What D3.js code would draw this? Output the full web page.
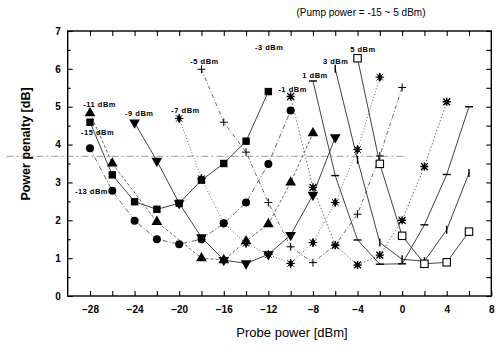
<!DOCTYPE html>
<html>
<head>
<meta charset="utf-8">
<script src="https://cdn.jsdelivr.net/npm/d3@7"></script>
<style>
  body { margin: 0; background: #fff; }
  text { font-family: "Liberation Sans", Arial, sans-serif; }
</style>
</head>
<body>
<svg id="chart" width="496" height="353"></svg>
<script>
// --- data (probe power [dBm] / power penalty [dB]) ---
const probeM15 = [-28, -26, -24, -22, -20, -18, -16, -14, -12];
const penaltyM15 = [4.59, 3.2, 2.49, 2.29, 2.45, 3.06, 3.5, 4.09, 5.4];

const probeM13 = [-28, -26, -24, -22, -20, -18, -16, -14, -12, -10];
const penaltyM13 = [3.9, 2.78, 1.99, 1.5, 1.37, 1.5, 1.92, 2.47, 3.49, 4.9];

const probeM11 = [-28, -26, -22, -18, -16, -14, -12, -10, -8];
const penaltyM11 = [4.83, 3.5, 1.96, 1.0, 0.95, 1.45, 1.9, 3.0, 4.3];

const probeM9 = [-24, -22, -20, -18, -16, -14, -12, -10, -8, -6];
const penaltyM9 = [4.58, 3.57, 2.45, 1.55, 0.95, 0.86, 1.1, 1.61, 2.67, 4.19];

const probeM7 = [-20, -18, -16, -14, -12, -10, -8, -6, -4, -2];
const penaltyM7 = [4.69, 3.1, 1.92, 1.39, 1.1, 0.86, 1.41, 2.47, 3.87, 5.78];

const probeM5 = [-18, -16, -14, -12, -10, -8, -6, -4, -2, 0];
const penaltyM5 = [5.99, 4.59, 3.8, 2.47, 1.3, 0.88, 1.35, 2.16, 3.7, 5.51];

const probeM1 = [-10, -8, -6, -4, -2, 0, 2, 4];
const penaltyM1 = [5.27, 2.87, 1.34, 0.82, 1.08, 2.0, 3.42, 5.13];

const probeP1 = [-8, -6, -4, -2, 0, 2, 4, 6];
const penaltyP1 = [5.68, 3.18, 1.48, 0.84, 0.85, 1.88, 3.21, 5.0];

const probeP3 = [-6, -4, -2, 0, 2, 4, 6];
const penaltyP3 = [6.0, 3.6, 1.41, 0.97, 0.92, 1.75, 3.25];

const probeP5 = [-4, -2, 0, 2, 4, 6];
const penaltyP5 = [6.28, 3.49, 1.59, 0.85, 0.89, 1.7];

// pump power labels and where they sit (data coords)
const pumpLabels = ['-11 dBm', '-15 dBm', '-13 dBm', '-9 dBm', '-7 dBm', '-5 dBm', '-3 dBm', '-1 dBm', '1 dBm', '3 dBm', '5 dBm'];
const pumpLabelX = [-28.6, -28.8, -29.35, -24.85, -20.7, -19.0, -13.2, -11.1, -8.95, -7.1, -4.65];
const pumpLabelY = [5.0, 4.25, 2.69, 4.75, 4.83, 6.13, 6.5, 5.39, 5.76, 6.13, 6.44];

const xTicks = [-28, -24, -20, -16, -12, -8, -4, 0, 4, 8];
const yTicks = [0, 1, 2, 3, 4, 5, 6, 7];
const refPenalty = 3.69; // dash-dot reference line

// --- layout ---
const M = { left: 67.7, right: 491.3, top: 31, bottom: 296 };

const svg = d3.select('#chart');

const x = d3.scaleLinear().domain([-30, 8]).range([M.left, M.right]);
const y = d3.scaleLinear().domain([0, 7]).range([M.bottom, M.top]);

// series table (styles live here, not in the data arrays)
const series = [
  { px: probeM15, py: penaltyM15, marker: 'square', dash: null },
  { px: probeM13, py: penaltyM13, marker: 'circle', dash: '5,2,1,2' },
  { px: probeM11, py: penaltyM11, marker: 'triUp', dash: '3,2' },
  { px: probeM9, py: penaltyM9, marker: 'triDown', dash: null },
  { px: probeM7, py: penaltyM7, marker: 'burst', dash: '1,2' },
  { px: probeM5, py: penaltyM5, marker: 'plus', dash: '4,2,1,2' },
  { px: probeM1, py: penaltyM1, marker: 'asterisk', dash: '1.5,2' },
  { px: probeP1, py: penaltyP1, marker: 'hbar', dash: null },
  { px: probeP3, py: penaltyP3, marker: 'vbar', dash: null },
  { px: probeP5, py: penaltyP5, marker: 'openSquare', dash: null }
];

// reference dash-dot line (it starts left of the axis)
svg.append('line')
  .attr('x1', x(-35.5)).attr('x2', x(0.3))
  .attr('y1', y(refPenalty)).attr('y2', y(refPenalty))
  .attr('stroke', '#aaa').attr('stroke-width', 1.3)
  .attr('stroke-dasharray', '7,3,2,3');

// curves
const line = d3.line().x(d => x(d[0])).y(d => y(d[1]));
series.forEach(s => {
  const pts = s.px.map((v, i) => [v, s.py[i]]);
  svg.append('path')
    .datum(pts)
    .attr('d', line)
    .attr('fill', 'none')
    .attr('stroke', s.dash ? '#444' : '#111')
    .attr('stroke-width', 0.8)
    .attr('stroke-dasharray', s.dash);
});

// markers
function drawMarker(g, type) {
  switch (type) {
    case 'square':
      g.append('rect').attr('x', -3.7).attr('y', -3.7).attr('width', 7.4).attr('height', 7.4).attr('fill', '#000');
      break;
    case 'openSquare':
      g.append('rect').attr('x', -3.7).attr('y', -3.7).attr('width', 7.4).attr('height', 7.4)
        .attr('fill', '#fff').attr('stroke', '#000').attr('stroke-width', 1.1);
      break;
    case 'circle':
      g.append('circle').attr('r', 4).attr('fill', '#000');
      break;
    case 'triUp':
      g.append('path').attr('d', d3.symbol(d3.symbolTriangle, 50)()).attr('fill', '#000');
      break;
    case 'triDown':
      g.append('path').attr('d', d3.symbol(d3.symbolTriangle, 50)())
        .attr('transform', 'rotate(180)').attr('fill', '#000');
      break;
    case 'burst':
      g.append('path').attr('d', d3.symbol(d3.symbolDiamond, 24)()).attr('fill', '#000');
      g.append('path').attr('d', 'M-3.3,-3.3L3.3,3.3M-3.3,3.3L3.3,-3.3M-4.3,0H4.3M0,-4.3V4.3')
        .attr('stroke', '#000').attr('stroke-width', 1);
      break;
    case 'plus':
      g.append('path').attr('d', 'M-4,0H4M0,-4V4')
        .attr('stroke', '#000').attr('stroke-width', 1);
      break;
    case 'asterisk':
      g.append('path').attr('d', 'M-3.4,-3.4L3.4,3.4M-3.4,3.4L3.4,-3.4M-4,0H4M0,-4V4')
        .attr('stroke', '#000').attr('stroke-width', 1.4);
      break;
    case 'hbar':
      g.append('path').attr('d', 'M-4,0H4').attr('stroke', '#000').attr('stroke-width', 1.4);
      break;
    case 'vbar':
      g.append('path').attr('d', 'M0,-4V4').attr('stroke', '#000').attr('stroke-width', 1.4);
      break;
  }
}

series.forEach(s => {
  s.px.forEach((v, i) => {
    const g = svg.append('g').attr('transform', `translate(${x(v)},${y(s.py[i])})`);
    drawMarker(g, s.marker);
  });
});

// pump power labels
svg.selectAll('text.pump').data(pumpLabels).enter().append('text')
  .attr('class', 'pump')
  .attr('x', (d, i) => x(pumpLabelX[i]))
  .attr('y', (d, i) => y(pumpLabelY[i]))
  .attr('font-size', '7.5px').attr('font-weight', 'bold')
  .attr('letter-spacing', '0.5')
  .text(d => d);

// frame
svg.append('rect')
  .attr('x', M.left).attr('y', M.top)
  .attr('width', M.right - M.left).attr('height', M.bottom - M.top)
  .attr('fill', 'none').attr('stroke', '#000').attr('stroke-width', 1.4);

// axes (ticks pointing inward)
const xMinor = d3.range(-28, 8, 2).filter(v => !xTicks.includes(v));
const yMinor = d3.range(0.5, 7, 1);

const axB = svg.append('g').attr('transform', `translate(0,${M.bottom})`)
  .call(d3.axisBottom(x).tickValues(xTicks).tickSize(-5).tickPadding(10).tickFormat(d3.format('d')));
const axL = svg.append('g').attr('transform', `translate(${M.left},0)`)
  .call(d3.axisLeft(y).tickValues(yTicks).tickSize(-5).tickPadding(7).tickFormat(d3.format('d')));
svg.append('g').attr('transform', `translate(0,${M.top})`)
  .call(d3.axisTop(x).tickValues(d3.range(-28, 8, 2)).tickSize(-5).tickFormat(''));
svg.append('g').attr('transform', `translate(${M.right},0)`)
  .call(d3.axisRight(y).tickValues(yTicks.concat(yMinor)).tickSize(-5).tickFormat(''));
svg.append('g').attr('transform', `translate(0,${M.bottom})`)
  .call(d3.axisBottom(x).tickValues(xMinor).tickSize(-5).tickFormat(''));
svg.append('g').attr('transform', `translate(${M.left},0)`)
  .call(d3.axisLeft(y).tickValues(yMinor).tickSize(-3).tickFormat(''));

svg.selectAll('.domain').remove();
svg.selectAll('.tick line').attr('stroke', '#000').attr('stroke-width', 1.1);
[axB, axL].forEach(a => a.selectAll('text')
  .attr('font-size', '10px').attr('font-weight', 'bold').attr('fill', '#000')
  .attr('font-family', '"Liberation Sans", Arial, sans-serif'));

// titles
svg.append('text')
  .attr('x', 292).attr('y', 337)
  .attr('text-anchor', 'middle').attr('font-size', '13px')
  .text('Probe power [dBm]');
svg.append('text')
  .attr('transform', 'translate(30,144) rotate(-90)')
  .attr('text-anchor', 'middle').attr('font-size', '12.5px').attr('font-weight', 'bold')
  .text('Power penalty [dB]');
svg.append('text')
  .attr('x', 361).attr('y', 16)
  .attr('text-anchor', 'middle').attr('font-size', '10px')
  .text('(Pump power = -15 ~ 5 dBm)');
</script>
</body>
</html>
